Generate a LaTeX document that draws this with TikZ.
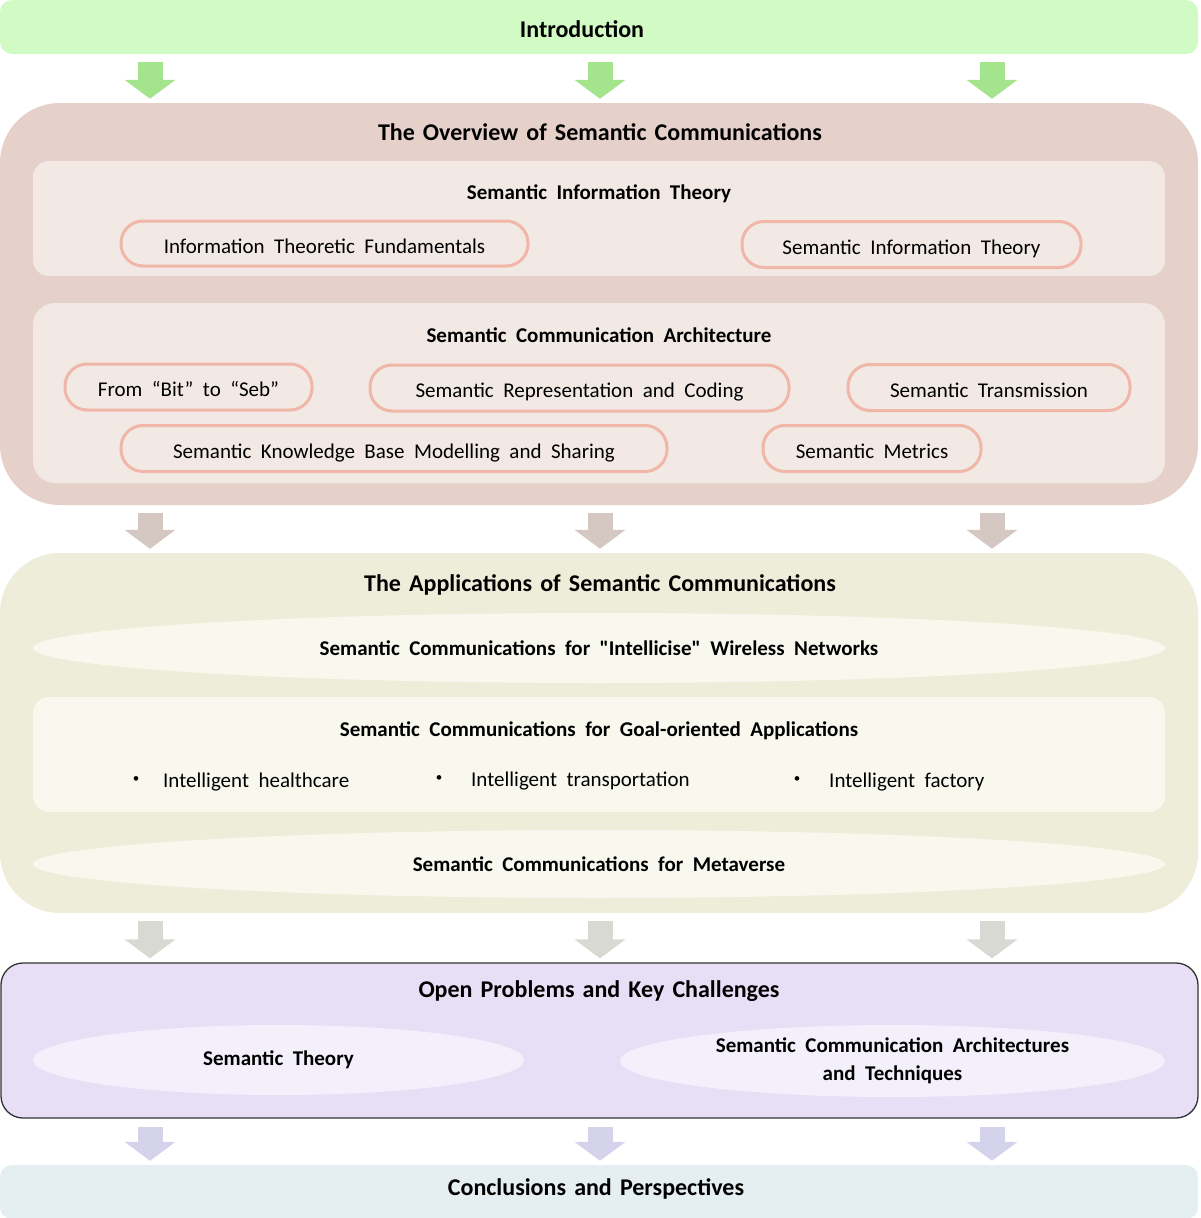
\documentclass[tikz,border=0pt]{standalone}
\usepackage{fontspec}
\setmainfont{Carlito}[WordSpace=1.5]
\newfontfamily\wfont{Carlito}[WordSpace=2,Ligatures=TeXOff]
\usetikzlibrary{shapes.geometric,arrows.meta}
\definecolor{introC}{HTML}{D1FAC5}
\definecolor{garrC}{HTML}{A3E48C}
\definecolor{ovC}{HTML}{E5D1CA}
\definecolor{ovIn}{HTML}{F2E8E4}
\definecolor{pillB}{HTML}{F0B6A8}
\definecolor{barrC}{HTML}{D5C8C3}
\definecolor{apC}{HTML}{EEEDD9}
\definecolor{apIn}{HTML}{F8F8EE}
\definecolor{yarrC}{HTML}{D9D9D3}
\definecolor{opC}{HTML}{E6DFF6}
\definecolor{opIn}{HTML}{F3F0FB}
\definecolor{larrC}{HTML}{D5D3EC}
\definecolor{coC}{HTML}{E5EEF1}
\tikzset{
  x=1pt,y=-1pt,
  box/.style={draw=none,rectangle,inner sep=0pt},
  ttl/.style={font=\fontsize{24}{28}\selectfont\bfseries,inner sep=0pt},
  sub/.style={font=\wfont\fontsize{21}{25}\selectfont\bfseries,inner sep=0pt},
  txt/.style={font=\wfont\fontsize{21}{25}\selectfont,inner sep=0pt},
  pill/.style={rectangle,rounded corners=22pt,draw=pillB,line width=3pt,fill=ovIn,inner sep=0pt,text height=19pt,text depth=0pt,font=\wfont\fontsize{21}{25}\selectfont},
  lens/.style={ellipse,inner sep=0pt,font=\wfont\fontsize{21}{25}\selectfont\bfseries,align=center},
  blk/.style={line width=25pt,-{Triangle[width=50pt,length=19pt]},shorten <=8pt,shorten >=4pt},
}
\begin{document}
\begin{tikzpicture}
\useasboundingbox (0,0) rectangle (1200,1218);
% column coordinates
\coordinate (c1) at (150,0);
\coordinate (c2) at (600,0);
\coordinate (c3) at (992,0);
% Introduction
\node[box,fill=introC,rounded corners=12pt,minimum width=1198pt,minimum height=54pt] (intro) at (599,27) {};
\node[ttl] (introT) at (582,29) {Introduction};
% Overview
\node[box,fill=ovC,rounded corners=60pt,minimum width=1198pt,minimum height=402pt] (ov) at (599,304) {};
\node[ttl] (ovT) at (600,132) {The Overview of Semantic Communications};
\node[box,fill=ovIn,rounded corners=16pt,minimum width=1132pt,minimum height=115pt] (sit) at (599,218.5) {};
\node[sub] (sitT) at (599,194) {Semantic Information Theory};
\node[pill,minimum width=407pt,minimum height=45pt] (p1) at (324.5,243.5) {Information Theoretic Fundamentals};
\node[pill,minimum width=339pt,minimum height=46pt] (p2) at (911.5,244.5) {Semantic Information Theory};
\node[box,fill=ovIn,rounded corners=22pt,minimum width=1132pt,minimum height=180pt] (sca) at (599,393) {};
\node[sub] (scaT) at (599,335) {Semantic Communication Architecture};
\node[pill,minimum width=247pt,minimum height=46pt] (p3) at (188.5,387) {From “Bit” to “Seb”};
\node[pill,minimum width=419pt,minimum height=46pt] (p4) at (579.5,388) {Semantic Representation and Coding};
\node[pill,minimum width=282pt,minimum height=46pt] (p5) at (989,387.5) {Semantic Transmission};
\node[pill,minimum width=546pt,minimum height=46pt] (p6) at (394,448.5) {Semantic Knowledge Base Modelling and Sharing};
\node[pill,minimum width=218pt,minimum height=46pt] (p7) at (872,448.5) {Semantic Metrics};
% Applications
\node[box,fill=apC,rounded corners=60pt,minimum width=1198pt,minimum height=360pt] (ap) at (599,733) {};
\node[ttl] (apT) at (600,585) {The Applications of Semantic Communications};
\node[lens,fill=apIn,minimum width=1132pt,minimum height=70pt] (e1) at (599,648) {Semantic Communications for "Intellicise" Wireless Networks};
\node[box,fill=apIn,rounded corners=16pt,minimum width=1132pt,minimum height=115pt] (goal) at (599,754.5) {};
\node[sub] (goalT) at (599,731) {Semantic Communications for Goal-oriented Applications};
\node[txt,font=\fontsize{13}{14}\selectfont] (b1) at (136,780) {•};
\node[txt,anchor=west] (g1) at (163,782) {Intelligent healthcare};
\node[txt,font=\fontsize{13}{14}\selectfont] (b2) at (439,779) {•};
\node[txt,anchor=west] (g2) at (471,781) {Intelligent transportation};
\node[txt,font=\fontsize{13}{14}\selectfont] (b3) at (797,780) {•};
\node[txt,anchor=west] (g3) at (829,782) {Intelligent factory};
\node[lens,fill=apIn,minimum width=1132pt,minimum height=68pt] (e2) at (599,864) {Semantic Communications for Metaverse};
% Open problems
\node[box,draw=black!80,line width=1.3pt,fill=opC,rounded corners=22pt,minimum width=1197pt,minimum height=155pt] (op) at (599.5,1040.5) {};
\node[ttl] (opT) at (599,991) {Open Problems and Key Challenges};
\node[lens,fill=opIn,minimum width=491pt,minimum height=70pt] (e3) at (278.5,1060) {Semantic Theory};
\node[lens,fill=opIn,minimum width=545pt,minimum height=72pt] (e4) at (892.5,1061) {Semantic Communication Architectures\\[3pt]and Techniques};
% Conclusions
\node[box,fill=coC,rounded corners=12pt,minimum width=1198pt,minimum height=54pt] (co) at (599,1192) {};
\node[ttl] (coT) at (596,1189) {Conclusions and Perspectives};
% block arrows
\foreach \c in {c1,c2,c3}{
  \draw[blk,draw=garrC,fill=garrC] (intro.south -| \c) -- (ov.north -| \c);
  \draw[blk,draw=barrC,fill=barrC] (ov.south -| \c) -- (ap.north -| \c);
  \draw[blk,draw=yarrC,fill=yarrC] (ap.south -| \c) -- (op.north -| \c);
  \draw[blk,draw=larrC,fill=larrC] (op.south -| \c) -- (co.north -| \c);
}
\end{tikzpicture}
\end{document}
